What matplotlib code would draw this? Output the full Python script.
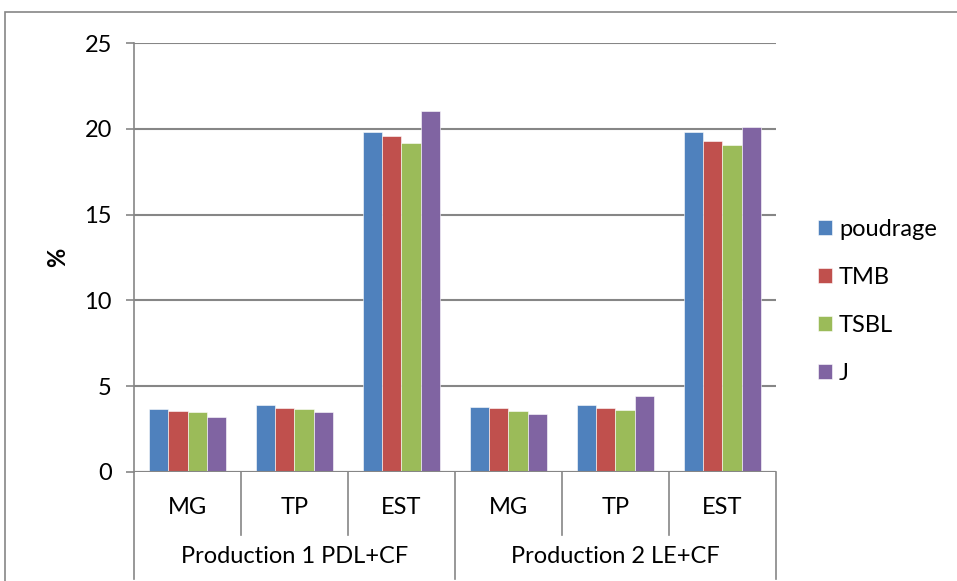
import matplotlib.pyplot as plt
import numpy as np
from matplotlib.patches import Rectangle

plt.rcParams['font.family'] = ['Lato', 'DejaVu Sans']

groups = ['Production 1 PDL+CF', 'Production 2 LE+CF']
categories = ['MG', 'TP', 'EST']
series = ['poudrage', 'TMB', 'TSBL', 'J']
colors = ['#4F81BD', '#C0504D', '#9BBB59', '#8064A2']

# one row per series, in the order MG, TP, EST of group 1 then group 2
poudrage = [3.67, 3.88, 19.80, 3.81, 3.88, 19.84]
tmb = [3.56, 3.71, 19.56, 3.73, 3.71, 19.29]
tsbl = [3.48, 3.65, 19.16, 3.56, 3.63, 19.04]
j = [3.23, 3.48, 21.06, 3.40, 4.41, 20.13]
values = [poudrage, tmb, tsbl, j]

fig = plt.figure(figsize=(9.57, 5.81), dpi=100)
ax = fig.add_axes([134 / 957, 1 - 472 / 581, 642 / 957, 429 / 581])

# outer chart border
fig.patches.append(Rectangle((5 / 957, -0.1), 1.1, 1 - 12 / 581 + 0.1,
                             transform=fig.transFigure, fill=False,
                             edgecolor='#868686', linewidth=1.2))

n_cat = len(groups) * len(categories)
x = np.arange(n_cat)
w = 1 / 5.5
for i, (name, vals) in enumerate(zip(series, values)):
    ax.bar(x + (i - 1.5) * w, vals, width=w, color=colors[i], label=name,
           edgecolor='white', linewidth=0.4, zorder=3)

ax.set_xlim(-0.5, n_cat - 0.5)
ax.set_ylim(0, 25)
ax.set_yticks([0, 5, 10, 15, 20, 25])
ax.yaxis.grid(True, color='#868686', linewidth=1.5, zorder=0)
ax.tick_params(axis='y', length=6, width=1.2, color='#868686', labelsize=17, pad=10)
ax.set_xticks([])
for side in ['top', 'right', 'bottom']:
    ax.spines[side].set_visible(False)
ax.spines['left'].set_color('#868686')
ax.spines['left'].set_linewidth(1.2)
ax.axhline(0, color='#868686', linewidth=1.5, zorder=4)
ax.set_ylabel('%', fontsize=17, fontweight='bold')
ax.yaxis.set_label_coords(-0.101, 0.5)

# two-level category axis below the bars
trans = ax.get_xaxis_transform()
for k in range(n_cat + 1):
    bottom = -0.25 if k % len(categories) == 0 else -0.147
    ax.plot([k - 0.5, k - 0.5], [0, bottom], transform=trans, clip_on=False,
            color='#868686', linewidth=1.2)
for k in range(n_cat):
    ax.text(k, -0.083, categories[k % len(categories)], transform=trans,
            ha='center', va='center', fontsize=17)
for g, name in enumerate(groups):
    cx = g * len(categories) + (len(categories) - 1) / 2
    ax.text(cx, -0.198, name, transform=trans, ha='center', va='center',
            fontsize=17)

ax.legend(loc='center left', bbox_to_anchor=(1.065, 0.398), frameon=False,
          fontsize=17, handlelength=0.6, handleheight=0.6,
          labelspacing=1.15, handletextpad=0.3, borderpad=0, borderaxespad=0)

fig.savefig('out.png', dpi=100)
